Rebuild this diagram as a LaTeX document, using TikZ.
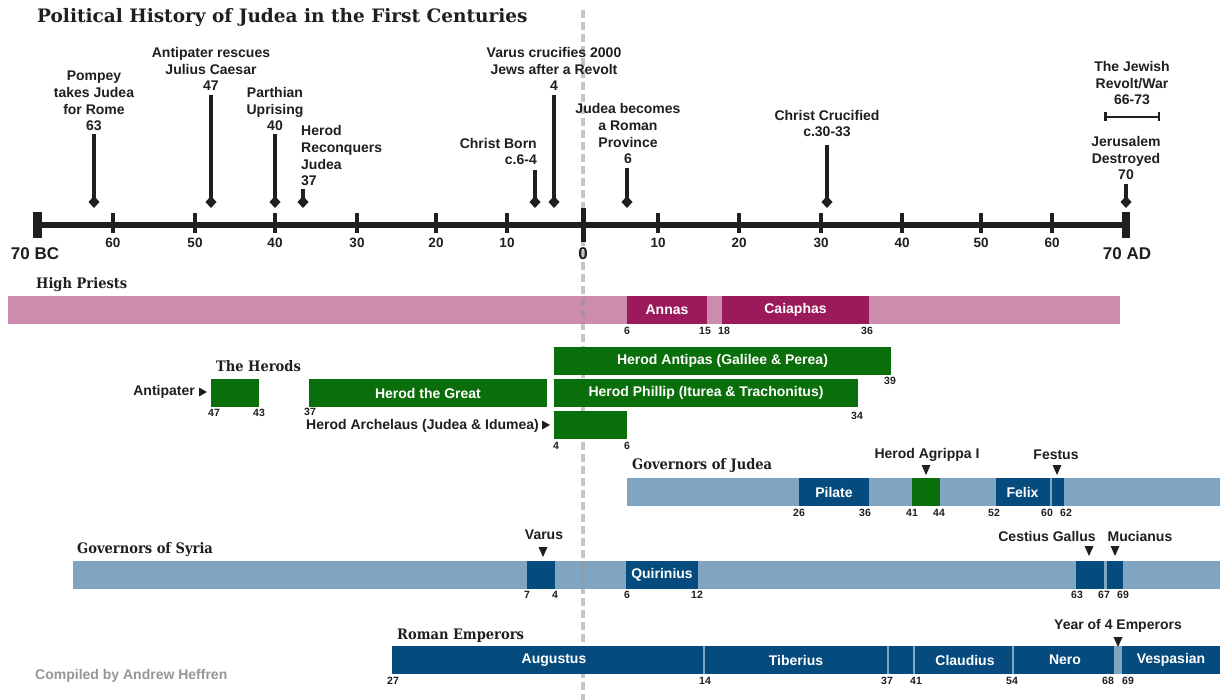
\documentclass[tikz,border=0pt]{standalone}
\usepackage{fontspec}
\setmainfont{Liberation Sans}
\newfontfamily\headfont{DejaVu Serif}[FakeStretch=0.9]
\newfontfamily\titlefont{DejaVu Serif}
\usetikzlibrary{arrows.meta,calc}
\definecolor{ink}{RGB}{32,30,30}
\definecolor{pinkbar}{RGB}{205,139,174}
\definecolor{magbox}{RGB}{155,26,91}
\definecolor{hgreen}{RGB}{10,110,10}
\definecolor{ltblue}{RGB}{128,165,194}
\definecolor{dkblue}{RGB}{5,75,125}
\definecolor{dashgray}{RGB}{150,150,150}
\definecolor{credgray}{RGB}{150,150,150}
\tikzset{
  evt/.style={align=center, inner sep=0pt, text=ink, font=\bfseries\fontsize{14}{16.6}\selectfont},
  evarrow/.style={draw=ink, line width=3.5pt, -{Diamond[length=12pt,width=11pt]}},
  head/.style={inner sep=0pt, anchor=west, text=ink, font=\headfont\bfseries\fontsize{14.5}{16}\selectfont},
  boxlbl/.style={inner sep=0pt, text=white, font=\bfseries\fontsize{14}{16}\selectfont},
  lbl/.style={inner sep=0pt, text=ink, font=\bfseries\fontsize{14}{16}\selectfont},
  num/.style={inner sep=0pt, text=ink, font=\bfseries\fontsize{10.5}{12}\selectfont},
  axnum/.style={inner sep=0pt, text=ink, font=\bfseries\fontsize{13.5}{15}\selectfont},
  axbig/.style={inner sep=0pt, text=ink, font=\bfseries\fontsize{17}{19}\selectfont},
  zeroline/.style={draw=dashgray, opacity=0.55, line width=3.5pt, dash pattern=on 8pt off 4pt},
  sepline/.style={draw=ltblue, line width=1.2pt},
  downmark/.pic={\fill[ink] (-4.5,-5) -- (4.5,-5) -- (0,5) -- cycle;},
  rightmark/.pic={\fill[ink] (-4,-4.5) -- (-4,4.5) -- (4,0) -- cycle;}
}
\begin{document}
\begin{tikzpicture}[x=1pt,y=-1pt]
\useasboundingbox[fill=white] (0,0) rectangle (1220,700);

% ---------- light background bars ----------
\fill[pinkbar] (8,296) rectangle (1120,324);
\fill[ltblue] (627,478) rectangle (1220,506);
\fill[ltblue] (73,561) rectangle (1220,589);

% ---------- year zero dashed line ----------
\coordinate (ztop) at (583,10);
\coordinate (zbot) at (583,700);
\draw[zeroline] (ztop) -- (zbot);

% ---------- title ----------
\node[inner sep=0pt, anchor=base west, text=ink, font=\titlefont\bfseries\fontsize{18.5}{20}\selectfont] (title) at (37,23) {Political History of Judea in the First Centuries};

% ---------- main axis ----------
\coordinate (axL) at (37,225);
\coordinate (axR) at (1126,225);
\draw[ink, line width=6pt] (axL) -- (axR);
\fill[ink] (33,212) rectangle (42,238);
\fill[ink] (1122,212) rectangle (1130,238);
\fill[ink] (580.5,208) rectangle (585.5,242);
\foreach \x/\t [count=\i] in {113/60,195/50,275/40,357/30,436/20,507/10,658/10,739/20,821/30,902/40,981/50,1052/60}{
  \fill[ink] (\x-1.75,213) rectangle (\x+1.75,233);
  \node[axnum] (ax\i) at (\x,243) {\t};
}
\node[axbig] (zero) at (583,254) {0};
\node[axbig] (bc70) at (35,254) {70 BC};
\node[axbig] (ad70) at (1127,254) {70 AD};

% ---------- events ----------
\node[evt, anchor=south] (pompey) at (94,131) {Pompey\\takes Judea\\for Rome\\63};
\node[evt, anchor=south] (antip) at (211,91) {Antipater rescues\\Julius Caesar\\47};
\node[evt, anchor=south] (parth) at (275,131) {Parthian\\Uprising\\40};
\node[evt, anchor=south west, align=left] (herodrec) at (301,186) {Herod\\Reconquers\\Judea\\37};
\node[evt, anchor=south east, align=right] (cborn) at (537,165) {Christ Born\\c.6-4};
\node[evt, anchor=south] (varus) at (554,91) {Varus crucifies 2000\\Jews after a Revolt\\4};
\node[evt, anchor=south] (prov) at (628,164) {Judea becomes\\a Roman\\Province\\6};
\node[evt, anchor=south] (ccruc) at (827,137) {Christ Crucified\\c.30-33};
\node[evt, anchor=south] (revolt) at (1132,105) {The Jewish\\Revolt/War\\66-73};
\node[evt, anchor=south] (jerus) at (1126,180) {Jerusalem\\Destroyed\\70};

\coordinate (p63) at (94,208);
\coordinate (p47) at (211,208);
\coordinate (p40) at (275,208);
\coordinate (p37) at (303,208);
\coordinate (p6bc) at (535,208);
\coordinate (p4bc) at (554,208);
\coordinate (p6ad) at (627,208);
\coordinate (p30) at (827,208);
\coordinate (p70) at (1126,208);
\draw[evarrow] ($(pompey.south -| p63)+(0,3)$) -- (p63);
\draw[evarrow] ($(antip.south -| p47)+(0,4)$) -- (p47);
\draw[evarrow] ($(parth.south -| p40)+(0,3)$) -- (p40);
\draw[evarrow] ($(herodrec.south -| p37)+(0,3)$) -- (p37);
\draw[evarrow] ($(cborn.south -| p6bc)+(0,5)$) -- (p6bc);
\draw[evarrow] ($(varus.south -| p4bc)+(0,4)$) -- (p4bc);
\draw[evarrow] ($(prov.south -| p6ad)+(0,4)$) -- (p6ad);
\draw[evarrow] ($(ccruc.south -| p30)+(0,8)$) -- (p30);
\draw[evarrow] ($(jerus.south -| p70)+(0,4)$) -- (p70);
\coordinate (jr1) at (1104,117);
\coordinate (jr2) at (1160,117);
\draw[ink, line width=2.5pt, {Bar[width=9pt]}-{Bar[width=9pt]}] (jr1) -- (jr2);

% ---------- High Priests ----------
\node[head] (hphead) at (36,285) {High Priests};
\fill[magbox] (627,296) rectangle (707,324);
\node[boxlbl] (annas) at (667,310) {Annas};
\fill[magbox] (722,296) rectangle (869,324);
\node[boxlbl] (caia) at (795.5,310) {Caiaphas};
\foreach \x/\t [count=\i] in {627/6,705/15,724/18,867/36}{
  \node[num] (hpn\i) at (\x,331) {\t};
}

% ---------- The Herods ----------
\node[head] (herodshead) at (216,366) {The Herods};
\fill[hgreen] (211,379) rectangle (259,407);
\fill[hgreen] (309,379) rectangle (547,407);
\node[boxlbl] (hgreat) at (428,393) {Herod the Great};
\fill[hgreen] (554,347) rectangle (891,375);
\node[boxlbl] (antipas) at (722.5,361) {Herod Antipas (Galilee \& Perea)};
\fill[hgreen] (554,379) rectangle (858,407);
\node[boxlbl] (phillip) at (706,393) {Herod Phillip (Iturea \& Trachonitus)};
\fill[hgreen] (554,411) rectangle (627,439);
\node[lbl, anchor=east] (antipater) at (195,392) {Antipater};
\pic at (203,392) {rightmark};
\node[lbl, anchor=east] (archel) at (539,426) {Herod Archelaus (Judea \& Idumea)};
\pic at (546,425) {rightmark};
\foreach \x/\y/\t [count=\i] in {214/413/47,259/413/43,310/412/37,890/381/39,857/416/34,556/446/4,627/446/6}{
  \node[num] (hn\i) at (\x,\y) {\t};
}

% ---------- Governors of Judea ----------
\node[head] (gjhead) at (632,465) {Governors of Judea};
\fill[dkblue] (799,478) rectangle (869,506);
\node[boxlbl] (pilate) at (834,492) {Pilate};
\fill[hgreen] (912,478) rectangle (940,506);
\fill[dkblue] (996,478) rectangle (1049.5,506);
\node[boxlbl] (felix) at (1022.5,492) {Felix};
\fill[dkblue] (1051.5,478) rectangle (1064,506);
\node[lbl] (agrippa) at (927,455) {Herod Agrippa I};
\pic at (926,470) {downmark};
\node[lbl] (festus) at (1056,455) {Festus};
\pic at (1057,470) {downmark};
\foreach \x/\t [count=\i] in {799/26,865/36,912/41,939/44,994/52,1047/60,1066/62}{
  \node[num] (gjn\i) at (\x,513) {\t};
}

% ---------- Governors of Syria ----------
\node[head] (gshead) at (77,550) {Governors of Syria};
\fill[dkblue] (527,561) rectangle (555,589);
\fill[dkblue] (626,561) rectangle (698,589);
\node[boxlbl] (quir) at (662,575) {Quirinius};
\fill[dkblue] (1076,561) rectangle (1104,589);
\fill[dkblue] (1107,561) rectangle (1123,589);
\node[lbl] (varusg) at (544,535) {Varus};
\pic at (543,552) {downmark};
\node[lbl] (cestius) at (1047,536) {Cestius Gallus};
\pic at (1089,551) {downmark};
\node[lbl] (mucian) at (1140,536) {Mucianus};
\pic at (1115,551) {downmark};
\foreach \x/\t [count=\i] in {527/7,555/4,627/6,697/12,1077/63,1104/67,1123/69}{
  \node[num] (gsn\i) at (\x,595) {\t};
}

% ---------- Roman Emperors ----------
\node[head] (emphead) at (397,636) {Roman Emperors};
\fill[dkblue] (392,646) rectangle (1220,674);
\fill[ltblue] (1114,646) rectangle (1122,674);
\foreach \x in {704,888,914,1013}{
  \draw[sepline] (\x,646) -- (\x,674);
}
\node[boxlbl] (aug) at (554,660) {Augustus};
\node[boxlbl] (tib) at (796,660) {Tiberius};
\node[boxlbl] (claud) at (965,660) {Claudius};
\node[boxlbl] (nero) at (1065,660) {Nero};
\node[boxlbl] (vesp) at (1171,660) {Vespasian};
\node[lbl] (year4) at (1118,626) {Year of 4 Emperors};
\pic at (1118,642) {downmark};
\foreach \x/\t [count=\i] in {393/27,705/14,887/37,916/41,1012/54,1108/68,1128/69}{
  \node[num] (en\i) at (\x,681) {\t};
}

% ---------- credit ----------
\node[inner sep=0pt, anchor=west, text=credgray, font=\bfseries\fontsize{14}{16}\selectfont] (credit) at (35,676) {Compiled by Andrew Heffren};
\end{tikzpicture}
\end{document}
